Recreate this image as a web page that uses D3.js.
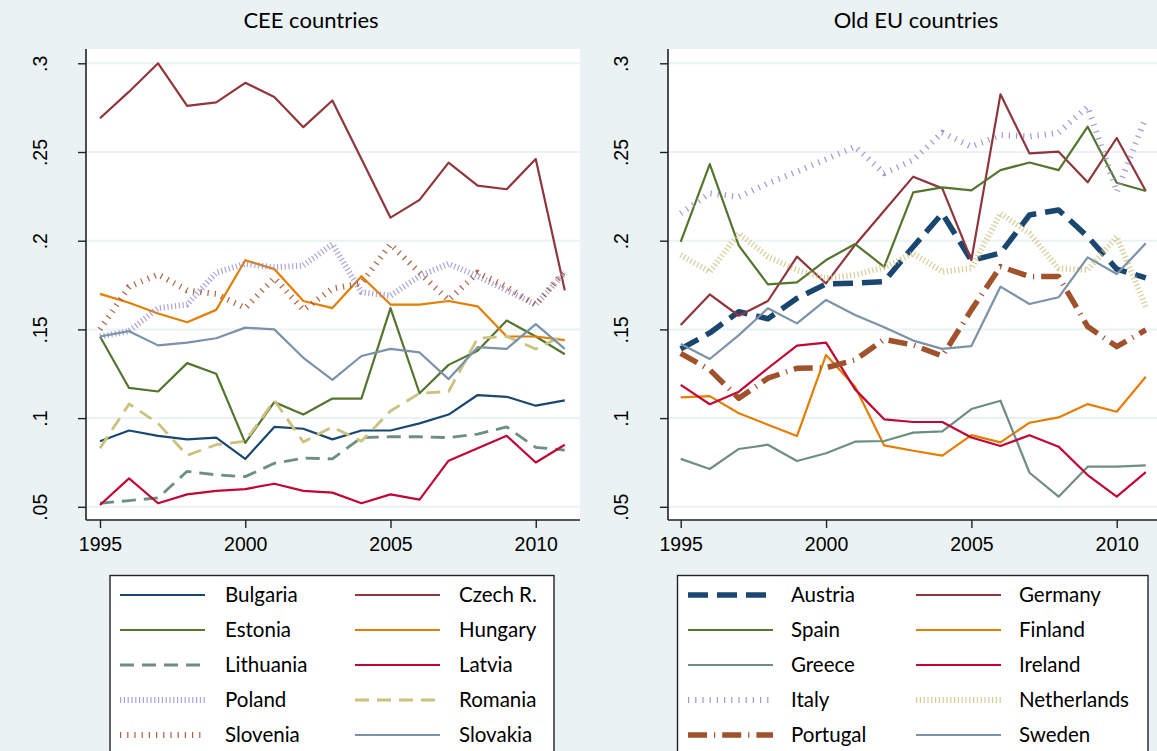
<!DOCTYPE html>
<html>
<head>
<meta charset="utf-8">
<script src="https://cdn.jsdelivr.net/npm/d3@7"></script>
<style>
  html, body { margin: 0; padding: 0; background: #eaf2f3; }
  svg { display: block; }
</style>
</head>
<body>
<svg id="chart" width="1157" height="751"></svg>
<script>
// ---------------- DATA ----------------
const years = [1995,1996,1997,1998,1999,2000,2001,2002,2003,2004,2005,2006,2007,2008,2009,2010,2011];
const xTicks = [1995, 2000, 2005, 2010];
const yTicks = [0.05, 0.10, 0.15, 0.20, 0.25, 0.30];
const yTickLabels = [".05", ".1", ".15", ".2", ".25", ".3"];
const panelTitles = ["CEE countries", "Old EU countries"];

// CEE countries
const bulgaria  = [0.087,0.093,0.090,0.088,0.089,0.077,0.095,0.094,0.088,0.093,0.093,0.097,0.102,0.113,0.112,0.107,0.110];
const czech     = [0.269,0.284,0.300,0.276,0.278,0.289,0.281,0.264,0.279,0.246,0.213,0.223,0.244,0.231,0.229,0.246,0.172];
const estonia   = [0.146,0.117,0.115,0.131,0.125,0.086,0.109,0.102,0.111,0.111,0.162,0.114,0.130,0.138,0.155,0.146,0.136];
const hungary   = [0.170,0.165,0.159,0.154,0.161,0.189,0.184,0.166,0.162,0.180,0.164,0.164,0.166,0.163,0.146,0.146,0.144];
const lithuania = [0.052,0.0535,0.055,0.070,0.068,0.067,0.0745,0.0775,0.077,0.089,0.0895,0.0895,0.089,0.091,0.095,0.0835,0.082];
const latvia    = [0.051,0.066,0.052,0.057,0.059,0.060,0.063,0.059,0.058,0.052,0.057,0.054,0.076,0.083,0.090,0.075,0.085];
const poland    = [0.146,0.149,0.162,0.164,0.182,0.187,0.185,0.186,0.198,0.171,0.169,0.180,0.187,0.180,0.172,0.164,0.182];
const romania   = [0.083,0.108,0.097,0.079,0.085,0.087,0.110,0.0865,0.095,0.087,0.104,0.114,0.115,0.145,0.146,0.139,0.147];
const slovenia  = [0.150,0.174,0.181,0.172,0.170,0.162,0.179,0.161,0.173,0.176,0.198,0.182,0.1665,0.182,0.174,0.164,0.183];
const slovakia  = [0.146,0.149,0.141,0.1425,0.145,0.151,0.150,0.134,0.1215,0.135,0.139,0.137,0.122,0.140,0.139,0.153,0.139];

// Old EU countries
const austria     = [0.139,0.148,0.160,0.156,0.1675,0.1756,0.176,0.177,0.1966,0.2154,0.1888,0.193,0.2145,0.2173,0.2023,0.184,0.179];
const germany     = [0.1525,0.1697,0.1577,0.166,0.191,0.1759,0.1976,0.2169,0.2361,0.2295,0.1891,0.2825,0.2492,0.2502,0.2329,0.2579,0.228];
const spain       = [0.1994,0.2432,0.1972,0.1754,0.1765,0.1891,0.1981,0.1853,0.2272,0.2301,0.2284,0.2398,0.2441,0.2398,0.2643,0.2327,0.228];
const finland     = [0.1117,0.1124,0.1027,0.0963,0.0899,0.1356,0.1177,0.0846,0.0816,0.0788,0.0904,0.0863,0.0974,0.1004,0.1079,0.1036,0.1233];
const greece      = [0.077,0.0713,0.0826,0.085,0.0758,0.0802,0.0867,0.0871,0.0918,0.0925,0.1051,0.1098,0.0692,0.0557,0.0726,0.0726,0.0734];
const ireland     = [0.1187,0.1078,0.1149,0.1281,0.1409,0.1425,0.1162,0.0993,0.0978,0.0978,0.0891,0.0843,0.0903,0.0839,0.0679,0.0557,0.0695];
const italy       = [0.2154,0.2267,0.2248,0.2323,0.2389,0.2459,0.253,0.238,0.2455,0.2609,0.253,0.2596,0.2587,0.2609,0.2756,0.2276,0.2695];
const netherlands = [0.1919,0.1825,0.2041,0.191,0.1835,0.1788,0.1807,0.185,0.1929,0.1825,0.1844,0.2154,0.2041,0.1844,0.1835,0.2022,0.1628];
const portugal    = [0.1365,0.1272,0.1112,0.1225,0.1281,0.1284,0.1328,0.1444,0.1412,0.135,0.161,0.1854,0.1798,0.1798,0.1516,0.1403,0.1497];
const sweden      = [0.1418,0.1333,0.1468,0.1619,0.1534,0.1666,0.1581,0.1512,0.1437,0.139,0.1406,0.1741,0.1643,0.1681,0.1906,0.1812,0.1985];

const ceeNames = ["Bulgaria","Czech R.","Estonia","Hungary","Lithuania","Latvia","Poland","Romania","Slovenia","Slovakia"];
const ceeValues = [bulgaria, czech, estonia, hungary, lithuania, latvia, poland, romania, slovenia, slovakia];
const euNames = ["Austria","Germany","Spain","Finland","Greece","Ireland","Italy","Netherlands","Portugal","Sweden"];
const euValues = [austria, germany, spain, finland, greece, ireland, italy, netherlands, portugal, sweden];

// ---------------- STYLES ----------------
const C = {
  navy: "#1a476f", maroon: "#90353b", forest: "#55752f", dkorange: "#e37e00",
  teal: "#6e8e84", cranberry: "#c10534", lavender: "#938dd2", khaki: "#cac27e",
  sienna: "#a0522d", emidblue: "#7b92a8"
};
const solid = c => ({color: c, width: 2.2, dash: null});
const dashed = c => ({color: c, width: 2.8, dash: "14 8"});
const dotDense = c => ({color: c, width: 6, dash: "1.2 2.6", opacity: 0.8});
const dotSparse = c => ({color: c, width: 6, dash: "1.2 6", opacity: 0.9});
const ceeStyles = [solid(C.navy), solid(C.maroon), solid(C.forest), solid(C.dkorange),
  dashed(C.teal), solid(C.cranberry), dotDense(C.lavender), dashed(C.khaki),
  dotSparse(C.sienna), solid(C.emidblue)];
const euStyles = [{color: C.navy, width: 5.5, dash: "20 9"}, solid(C.maroon), solid(C.forest), solid(C.dkorange),
  solid(C.teal), solid(C.cranberry), dotSparse(C.lavender), dotDense(C.khaki),
  {color: C.sienna, width: 5.5, dash: "19 7 1.2 7"}, solid(C.emidblue)];

// ---------------- LAYOUT ----------------
const svg = d3.select("#chart");
svg.append("rect").attr("width", 1157).attr("height", 751).attr("fill", "#eaf2f3");

const panels = [
  {names: ceeNames, values: ceeValues, styles: ceeStyles, title: panelTitles[0],
   left: 86, right: 580, xr: [100, 564.8], titleX: 311, tickLabelX: 40,
   legend: {x0: 110, x1: 554, col: [120, 355], text: [225, 459]}},
  {names: euNames, values: euValues, styles: euStyles, title: panelTitles[1],
   left: 668, right: 1165, xr: [680.7, 1145.8], titleX: 916, tickLabelX: 621,
   legend: {x0: 677.5, x1: 1148, col: [688, 916], text: [791, 1019]}}
];
const plotTop = 49, plotBottom = 520;
const y = d3.scaleLinear().domain([0.05, 0.30]).range([506.8, 63.3]);
const tickFont = "'Liberation Sans', Arial, sans-serif";
const textFont = "Lato, 'Open Sans', sans-serif";

panels.forEach(p => {
  const x = d3.scaleLinear().domain([1995, 2011]).range(p.xr);
  const g = svg.append("g");

  g.append("rect").attr("x", p.left).attr("y", plotTop)
    .attr("width", p.right - p.left).attr("height", plotBottom - plotTop).attr("fill", "#ffffff");

  g.selectAll(".grid").data(yTicks).enter().append("line")
    .attr("x1", p.left).attr("x2", p.right)
    .attr("y1", d => y(d)).attr("y2", d => y(d))
    .attr("stroke", "#eaf2f3").attr("stroke-width", 2);

  const yAxis = d3.axisLeft(y).tickValues(yTicks).tickSize(8)
    .tickFormat((d, i) => yTickLabels[i]);
  const ya = g.append("g").attr("transform", `translate(${p.left},0)`).call(yAxis);
  ya.select(".domain").attr("d", `M0,${plotTop}V${plotBottom}`).attr("stroke", "#222").attr("stroke-width", 1.6);
  ya.selectAll(".tick line").attr("stroke", "#222").attr("stroke-width", 1.4);
  ya.selectAll(".tick text")
    .attr("x", 0).attr("y", 0).attr("dy", null)
    .attr("transform", `translate(${p.tickLabelX - p.left + 7},0) rotate(-90)`)
    .attr("text-anchor", "middle")
    .style("font-family", tickFont).style("font-size", "19.5px").attr("fill", "#000");

  const xAxis = d3.axisBottom(x).tickValues(xTicks).tickSize(8).tickFormat(d3.format("d"));
  const xa = g.append("g").attr("transform", `translate(0,${plotBottom})`).call(xAxis);
  xa.select(".domain").attr("d", `M${p.left},0H${p.right}`).attr("stroke", "#222").attr("stroke-width", 1.6);
  xa.selectAll(".tick line").attr("stroke", "#222").attr("stroke-width", 1.4);
  xa.selectAll(".tick text").attr("y", 24).attr("dy", "0.35em")
    .style("font-family", tickFont).style("font-size", "19.5px").attr("fill", "#000");

  const line = d3.line().x((d, i) => x(years[i])).y(d => y(d));
  p.values.forEach((vals, k) => {
    const s = p.styles[k];
    g.append("path").datum(vals).attr("d", line)
      .attr("fill", "none").attr("stroke", s.color).attr("stroke-width", s.width)
      .attr("stroke-dasharray", s.dash).attr("stroke-opacity", s.opacity || 1)
      .attr("stroke-linejoin", "round");
  });

  svg.append("text").attr("x", p.titleX).attr("y", 20).attr("dy", "0.35em")
    .attr("text-anchor", "middle").style("font-family", textFont).style("font-size", "22px")
    .attr("fill", "#000").text(p.title);

  const L = p.legend;
  const lg = svg.append("g");
  lg.append("rect").attr("x", L.x0).attr("y", 575.5).attr("width", L.x1 - L.x0).attr("height", 200)
    .attr("fill", "#ffffff").attr("stroke", "#222").attr("stroke-width", 1.4);
  p.names.forEach((name, k) => {
    const col = k % 2, row = Math.floor(k / 2);
    const ry = 595 + row * 35;
    const s = p.styles[k];
    lg.append("line").attr("x1", L.col[col]).attr("x2", L.col[col] + 85)
      .attr("y1", ry).attr("y2", ry)
      .attr("stroke", s.color).attr("stroke-width", s.width)
      .attr("stroke-dasharray", s.dash).attr("stroke-opacity", s.opacity || 1);
    lg.append("text").attr("x", L.text[col]).attr("y", ry).attr("dy", "0.36em")
      .style("font-family", textFont).style("font-size", "20.5px").attr("fill", "#000").text(name);
  });
});
</script>
</body>
</html>
